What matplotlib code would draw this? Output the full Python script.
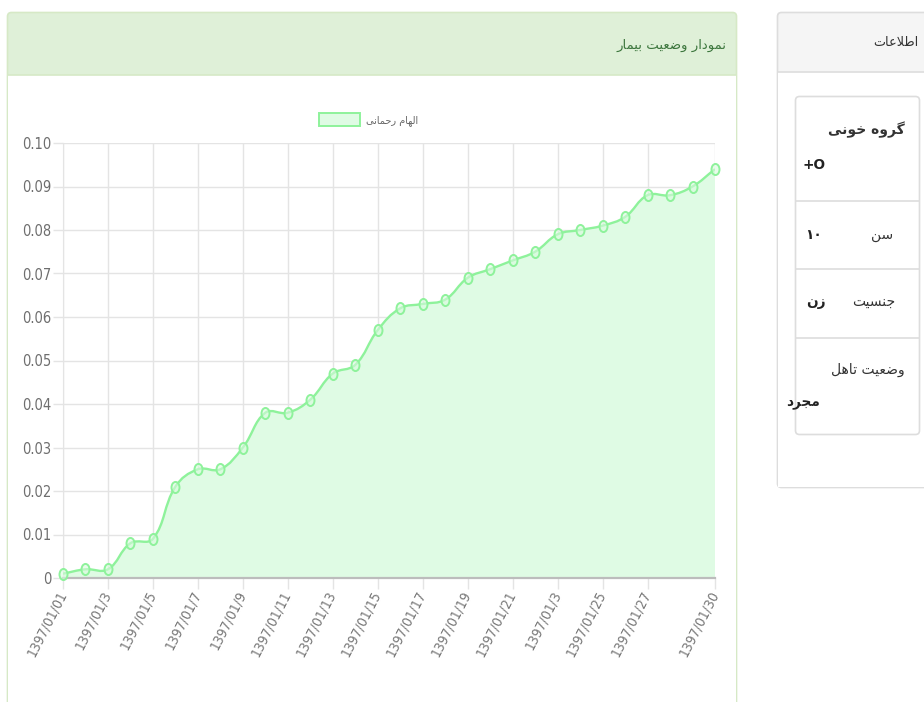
import numpy as np
import matplotlib
matplotlib.use('Agg')
import matplotlib.pyplot as plt
from matplotlib import font_manager
from matplotlib.path import Path
from matplotlib.patches import PathPatch, FancyBboxPatch, Rectangle, Patch
from matplotlib.transforms import Affine2D

# ---- data
dates = ['1397/01/01', '1397/01/2', '1397/01/3', '1397/01/4', '1397/01/5',
         '1397/01/6', '1397/01/7', '1397/01/8', '1397/01/9', '1397/01/10',
         '1397/01/11', '1397/01/12', '1397/01/13', '1397/01/14', '1397/01/15',
         '1397/01/16', '1397/01/17', '1397/01/18', '1397/01/19', '1397/01/20',
         '1397/01/21', '1397/01/22', '1397/01/3', '1397/01/24', '1397/01/25',
         '1397/01/26', '1397/01/27', '1397/01/28', '1397/01/29', '1397/01/30']
values = [0.001, 0.002, 0.002, 0.008, 0.009, 0.021, 0.025, 0.025, 0.030, 0.038,
          0.038, 0.041, 0.047, 0.049, 0.057, 0.062, 0.063, 0.064, 0.069, 0.071,
          0.073, 0.075, 0.079, 0.080, 0.081, 0.083, 0.088, 0.088, 0.090, 0.094]
shown_ticks = [0, 2, 4, 6, 8, 10, 12, 14, 16, 18, 20, 22, 24, 26, 29]
y_ticks = [0, 0.01, 0.02, 0.03, 0.04, 0.05, 0.06, 0.07, 0.08, 0.09, 0.10]
y_labels = ['0', '0.01', '0.02', '0.03', '0.04', '0.05', '0.06', '0.07', '0.08', '0.09', '0.10']

series_name = 'الهام رحمانی'
panel_title = 'نمودار وضعیت بیمار'
info_title = 'اطلاعات'
info_rows = [('گروه خونی', '+O'), ('سن', '۱۰'), ('جنسیت', 'زن'), ('وضعیت تاهل', 'مجرد')]

# ---- minimal persian shaping (matplotlib has no bidi / joining)
FORMS = {  # isolated, final, initial, medial
    'ا': ('\uFE8D', '\uFE8E', None, None),
    'ب': ('\uFE8F', '\uFE90', '\uFE91', '\uFE92'),
    'ت': ('\uFE95', '\uFE96', '\uFE97', '\uFE98'),
    'ج': ('\uFE9D', '\uFE9E', '\uFE9F', '\uFEA0'),
    'ح': ('\uFEA1', '\uFEA2', '\uFEA3', '\uFEA4'),
    'خ': ('\uFEA5', '\uFEA6', '\uFEA7', '\uFEA8'),
    'د': ('\uFEA9', '\uFEAA', None, None),
    'ر': ('\uFEAD', '\uFEAE', None, None),
    'ز': ('\uFEAF', '\uFEB0', None, None),
    'س': ('\uFEB1', '\uFEB2', '\uFEB3', '\uFEB4'),
    'ض': ('\uFEBD', '\uFEBE', '\uFEBF', '\uFEC0'),
    'ط': ('\uFEC1', '\uFEC2', '\uFEC3', '\uFEC4'),
    'ع': ('\uFEC9', '\uFECA', '\uFECB', '\uFECC'),
    'ل': ('\uFEDD', '\uFEDE', '\uFEDF', '\uFEE0'),
    'م': ('\uFEE1', '\uFEE2', '\uFEE3', '\uFEE4'),
    'ن': ('\uFEE5', '\uFEE6', '\uFEE7', '\uFEE8'),
    'ه': ('\uFEE9', '\uFEEA', '\uFEEB', '\uFEEC'),
    'و': ('\uFEED', '\uFEEE', None, None),
    'ی': ('\uFEEF', '\uFEF0', '\uFEF3', '\uFEF4'),
    'گ': ('\uFB92', '\uFB93', '\uFB94', '\uFB95'),
    'لا': ('\uFEFB', '\uFEFC', None, None),
}


def fa(text):
    toks = []
    i = 0
    while i < len(text):
        if text[i] == 'ل' and i + 1 < len(text) and text[i + 1] == 'ا':
            toks.append('لا')
            i += 2
        else:
            toks.append(text[i])
            i += 1
    out = []
    for k, t in enumerate(toks):
        if t not in FORMS:
            out.append(t)
            continue
        prev = toks[k - 1] if k > 0 else None
        nxt = toks[k + 1] if k + 1 < len(toks) else None
        pj = prev in FORMS and FORMS[prev][2] is not None
        nj = FORMS[t][2] is not None and nxt in FORMS
        f = FORMS[t]
        if pj and nj:
            out.append(f[3])
        elif pj:
            out.append(f[1])
        elif nj:
            out.append(f[2])
        else:
            out.append(f[0])
    return ''.join(out[::-1])


# narrow font for the tick labels if one is around, else plain DejaVu
ytick_fp = font_manager.FontProperties(family='DejaVu Sans', size=9.5)
xtick_fp = font_manager.FontProperties(family='DejaVu Sans', size=9)
narrow = [f for f in font_manager.fontManager.ttflist
          if f.stretch in ('condensed', 'semi-condensed') and f.style == 'normal'
          and f.weight in (400, 'normal', 'regular')]
if narrow:
    ytick_fp = font_manager.FontProperties(fname=narrow[0].fname, size=10.5)
    xtick_fp = font_manager.FontProperties(fname=narrow[0].fname, size=10)
fa_font = ['DejaVu Sans']

W, H = 924, 702
fig = plt.figure(figsize=(W / 100, H / 100), dpi=100)
fig.patch.set_facecolor('white')

# page layer in pixel coordinates
bg = fig.add_axes([0, 0, 1, 1], zorder=0)
bg.set_xlim(0, W)
bg.set_ylim(H, 0)
bg.set_axis_off()

# left panel (success style)
bg.add_patch(FancyBboxPatch((7.5, 12.5), 729, 740, boxstyle='round,pad=0,rounding_size=4',
                            facecolor='#dff0d8', edgecolor='#d6e9c6', lw=1.2))
bg.add_patch(Rectangle((8.2, 75), 727.6, 700, facecolor='white', edgecolor='none'))
bg.plot([8, 736], [75, 75], color='#d6e9c6', lw=1.2)
bg.text(727, 45, fa(panel_title), ha='right', va='center', color='#3c763d',
        fontsize=9.5, family=fa_font)

# right panel (default style)
bg.add_patch(FancyBboxPatch((777.5, 12.5), 170, 475, boxstyle='round,pad=0,rounding_size=4',
                            facecolor='#f5f5f5', edgecolor='#dddddd', lw=1.2))
bg.add_patch(Rectangle((778.2, 72), 168, 415, facecolor='white', edgecolor='none'))
bg.plot([778, 924], [72, 72], color='#dddddd', lw=1.2)
bg.text(918, 43, fa(info_title), ha='right', va='center', color='#333333',
        fontsize=9.2, family=fa_font)

# info list
bg.add_patch(FancyBboxPatch((795.5, 96.5), 124, 338, boxstyle='round,pad=0,rounding_size=4',
                            facecolor='white', edgecolor='#dddddd', lw=1.2))
for yy in [201, 269, 338]:
    bg.plot([796, 919], [yy, yy], color='#dddddd', lw=1.2)
row_label_pos = [(905, 130, 'bold'), (893, 235, 'normal'), (895, 302, 'normal'), (905, 370, 'normal')]
row_value_pos = [(826, 165), (822, 235), (826, 302), (820, 402)]
for (lab, val), (lx, ly, lw_), (vx, vy) in zip(info_rows, row_label_pos, row_value_pos):
    bg.text(lx, ly, fa(lab), ha='right', va='center', color='#333333', fontsize=10,
            fontweight=lw_, family=fa_font)
    vtxt = val if val[0] in '+۱' else fa(val)
    bg.text(vx, vy, vtxt, ha='right', va='center', color='#222222', fontsize=9.8,
            fontweight='bold', family=fa_font)

# ---- chart
x0, x1, y0, y1 = 63, 715, 143, 578
ax = fig.add_axes([x0 / W, 1 - y1 / H, (x1 - x0) / W, (y1 - y0) / H], zorder=2)
ax.patch.set_alpha(0)
n = len(values)
xs = np.arange(n)
ax.set_xlim(0, n - 1)
ax.set_ylim(0, 0.10)

line_c = '#8ef29b'
fill_c = '#dffbe4'

# chart.js style bezier (tension 0.4), computed in pixel-like space
sx = (x1 - x0) / (n - 1)
sy = (y1 - y0) / 0.10
px = xs * sx
py = np.array(values) * sy
t = 0.4
cin, cout = [], []
for i in range(n):
    a = max(i - 1, 0)
    b = min(i + 1, n - 1)
    d01 = np.hypot(px[i] - px[a], py[i] - py[a])
    d12 = np.hypot(px[b] - px[i], py[b] - py[i])
    tot = d01 + d12
    s01 = d01 / tot if tot else 0
    s12 = d12 / tot if tot else 0
    cin.append((px[i] - t * s01 * (px[b] - px[a]), py[i] - t * s01 * (py[b] - py[a])))
    cout.append((px[i] + t * s12 * (px[b] - px[a]), py[i] + t * s12 * (py[b] - py[a])))


def to_data(p):
    return (min(max(p[0] / sx, 0), n - 1), min(max(p[1] / sy, 0), 0.10))


verts = [(xs[0], values[0])]
codes = [Path.MOVETO]
for i in range(n - 1):
    verts += [to_data(cout[i]), to_data(cin[i + 1]), (xs[i + 1], values[i + 1])]
    codes += [Path.CURVE4] * 3
fill_verts = verts + [(xs[-1], 0), (xs[0], 0), (xs[0], values[0])]
fill_codes = codes + [Path.LINETO, Path.LINETO, Path.CLOSEPOLY]
ax.add_patch(PathPatch(Path(fill_verts, fill_codes), facecolor=fill_c, edgecolor='none', zorder=1))
ax.add_patch(PathPatch(Path(verts, codes), facecolor='none', edgecolor=line_c, lw=1.7, zorder=3))

ell = Path.unit_circle().transformed(Affine2D().scale(0.72, 1.0))
ax.plot(xs, values, linestyle='none', marker=ell, markersize=8, markerfacecolor=(0.85, 0.98, 0.87, 0.6),
        markeredgecolor=line_c, markeredgewidth=1.4, zorder=4, clip_on=False)

grid_c = '#e4e4e4'
ax.set_yticks(y_ticks)
ax.set_yticklabels(y_labels)
ax.set_xticks(shown_ticks)
ax.set_xticklabels([dates[i] for i in shown_ticks], rotation=63, ha='right', va='center',
                   rotation_mode='anchor')
ax.grid(True, color=grid_c, lw=1.0, zorder=0)
ax.set_axisbelow(True)
ax.tick_params(axis='both', color=grid_c, width=1.0, labelcolor='#6e6e6e')
ax.tick_params(axis='y', length=7, pad=1.5)
ax.tick_params(axis='x', length=8, pad=2.0, labelcolor='#777777')
for lab in ax.get_xticklabels():
    lab.set_fontproperties(xtick_fp)
for lab in ax.get_yticklabels():
    lab.set_fontproperties(ytick_fp)
for s in ['top', 'right']:
    ax.spines[s].set_visible(False)
ax.spines['left'].set_color(grid_c)
ax.spines['bottom'].set_color('#bcbcbc')
ax.spines['bottom'].set_linewidth(1.6)

leg = fig.legend(handles=[Patch(facecolor=fill_c, edgecolor=line_c, lw=1.4, label=fa(series_name))],
                 loc='center', bbox_to_anchor=(368.5 / W, 1 - 119.5 / H), frameon=False,
                 handlelength=4.2, handleheight=1.8, handletextpad=0.6, borderpad=0,
                 prop={'family': fa_font, 'size': 7})
for tx in leg.get_texts():
    tx.set_color('#666666')

fig.savefig('out.png', dpi=100)
